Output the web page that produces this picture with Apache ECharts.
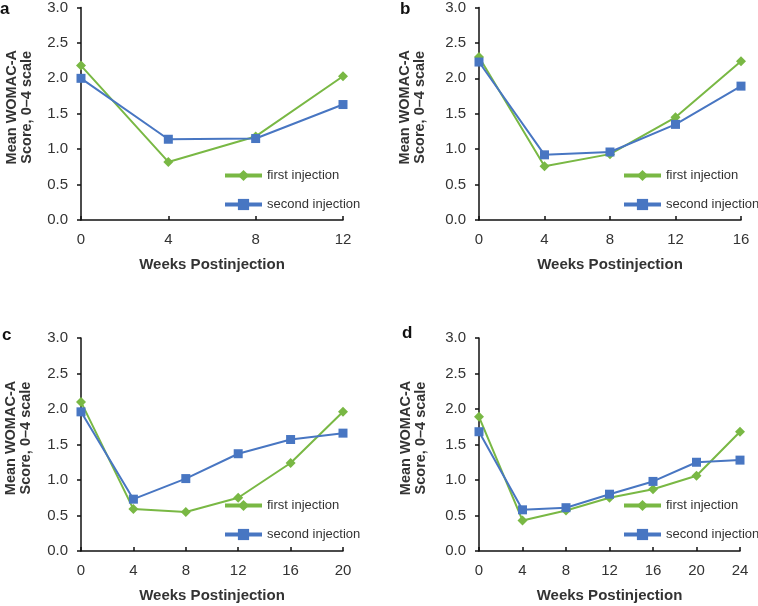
<!DOCTYPE html>
<html>
<head>
<meta charset="utf-8">
<script src="https://cdn.jsdelivr.net/npm/echarts@6/dist/echarts.min.js"></script>
<style>html,body{margin:0;padding:0;background:#fff;}#c{width:758px;height:606px;}</style>
</head>
<body>
<div id="c"></div>
<script>
// Data
var panelLabels = ['a', 'b', 'c', 'd'];
var weeksA = [0, 4, 8, 12];
var firstA = [2.18, 0.82, 1.18, 2.03];
var secondA = [2.00, 1.14, 1.15, 1.63];
var weeksB = [0, 4, 8, 12, 16];
var firstB = [2.30, 0.76, 0.93, 1.45, 2.24];
var secondB = [2.23, 0.92, 0.96, 1.35, 1.89];
var weeksC = [0, 4, 8, 12, 16, 20];
var firstC = [2.10, 0.59, 0.55, 0.75, 1.24, 1.96];
var secondC = [1.96, 0.73, 1.02, 1.37, 1.57, 1.66];
var weeksD = [0, 4, 8, 12, 16, 20, 24];
var firstD = [1.89, 0.43, 0.57, 0.75, 0.87, 1.06, 1.68];
var secondD = [1.68, 0.58, 0.61, 0.80, 0.98, 1.25, 1.28];
var yTicks = [0, 0.5, 1.0, 1.5, 2.0, 2.5, 3.0];
var seriesNames = ['first injection', 'second injection'];
var xTitle = 'Weeks Postinjection';
var yTitle = 'Mean WOMAC-A\nScore, 0\u20134 scale';

var panels = [
  {weeks: weeksA, first: firstA, second: secondA},
  {weeks: weeksB, first: firstB, second: secondB},
  {weeks: weeksC, first: firstC, second: secondC},
  {weeks: weeksD, first: firstD, second: secondD}
];

var GREEN = '#79b844';
var BLUE = '#4876c2';
var FONT = 'Liberation Sans, Arial, sans-serif';

var gridPos = [
  {left: 81, top: 7, width: 262, height: 213},
  {left: 479, top: 7, width: 262, height: 213},
  {left: 81, top: 338, width: 262, height: 213},
  {left: 479, top: 338, width: 261, height: 213}
];
var yNameGap = [47, 52, 48, 51];
var legendPos = [
  {left: 223, top: 169},
  {left: 622, top: 169},
  {left: 223, top: 499},
  {left: 622, top: 499}
];
var labelPos = [
  {left: 0, top: 1},
  {left: 400, top: 1},
  {left: 2, top: 327},
  {left: 402, top: 325}
];

var option = {
  animation: false,
  backgroundColor: '#fff',
  textStyle: {fontFamily: FONT},
  grid: [], xAxis: [], yAxis: [], series: [], legend: [], graphic: []
};

panels.forEach(function (p, i) {
  var g = gridPos[i];
  option.grid.push({left: g.left, top: g.top, width: g.width, height: g.height, containLabel: false});
  option.xAxis.push({
    type: 'value', gridIndex: i, min: 0, max: p.weeks[p.weeks.length - 1], interval: 4,
    axisLine: {show: true, onZero: false, lineStyle: {color: '#111', width: 1.5}},
    axisTick: {show: true, inside: true, length: 4, lineStyle: {color: '#111', width: 1.5}},
    axisLabel: {color: '#333', fontSize: 15, fontFamily: FONT, margin: 12},
    splitLine: {show: false},
    name: xTitle, nameLocation: 'middle', nameGap: 37,
    nameTextStyle: {color: '#333', fontSize: 15, fontWeight: 'bold', fontFamily: FONT}
  });
  option.yAxis.push({
    type: 'value', gridIndex: i, min: 0, max: 3, interval: 0.5,
    axisLine: {show: true, lineStyle: {color: '#111', width: 1.5}},
    axisTick: {show: true, inside: false, length: 4, lineStyle: {color: '#111', width: 1.5}},
    axisLabel: {color: '#333', fontSize: 15, fontFamily: FONT, margin: 13,
      formatter: function (v) { return v.toFixed(1); }},
    splitLine: {show: false},
    name: yTitle, nameLocation: 'middle', nameGap: yNameGap[i],
    nameTextStyle: {color: '#333', fontSize: 14.5, fontWeight: 'bold', fontFamily: FONT, lineHeight: 15,
      padding: [0, 0, 0, 13]}
  });
  option.series.push({
    name: seriesNames[0], type: 'line', xAxisIndex: i, yAxisIndex: i,
    data: p.weeks.map(function (w, k) { return [w, p.first[k]]; }),
    symbol: 'diamond', symbolSize: [10, 10],
    lineStyle: {color: GREEN, width: 2}, itemStyle: {color: GREEN},
    z: 3
  });
  option.series.push({
    name: seriesNames[1], type: 'line', xAxisIndex: i, yAxisIndex: i,
    data: p.weeks.map(function (w, k) { return [w, p.second[k]]; }),
    symbol: 'rect', symbolSize: 9,
    lineStyle: {color: BLUE, width: 2}, itemStyle: {color: BLUE},
    z: 4
  });
  option.legend.push({
    orient: 'vertical', left: legendPos[i].left, top: legendPos[i].top,
    padding: 0,
    itemWidth: 37, itemHeight: 14, itemGap: 16,
    data: seriesNames,
    textStyle: {color: '#333', fontSize: 13, fontFamily: FONT},
    lineStyle: {width: 4},
    selectedMode: false
  });
  option.graphic.push({
    type: 'text', left: labelPos[i].left, top: labelPos[i].top,
    style: {text: panelLabels[i], font: 'bold 17px ' + FONT, fill: '#111'}
  });
});

var chart = echarts.init(document.getElementById('c'), null, {renderer: 'canvas'});
chart.setOption(option);
</script>
</body>
</html>
